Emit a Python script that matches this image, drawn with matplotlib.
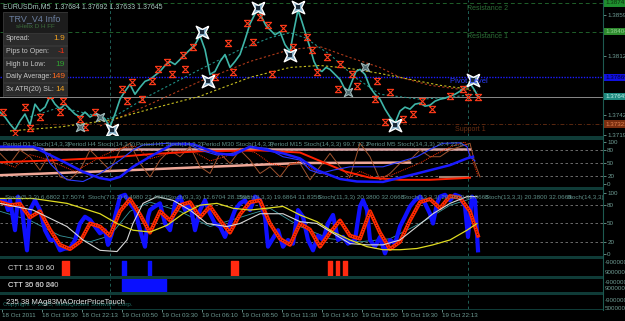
import numpy as np
import matplotlib
matplotlib.use('agg')
import matplotlib.pyplot as plt
from matplotlib.path import Path
from matplotlib.patches import Rectangle
from matplotlib.lines import Line2D
from matplotlib.transforms import blended_transform_factory

W, H = 625, 321
PLOT_W = 603
FONT = ['Liberation Sans Narrow', 'Liberation Sans', 'DejaVu Sans']

# ---- main chart data (bar position, price) ----
price = [(0,1.37463),(5,1.37405),(10,1.37323),(15,1.37254),(20,1.37358),(25,1.37440),(30,1.37312),
         (35,1.37556),(40,1.37475),(45,1.37521),(50,1.37649),(55,1.37556),(60,1.37498),(65,1.37556),
         (70,1.37498),(75,1.37440),(80,1.37405),(85,1.37463),(90,1.37405),(95,1.37440),(100,1.37405),
         (105,1.37382),(110,1.37289),(115,1.37440),(120,1.37614),(125,1.37707),(130,1.37788),(135,1.37672),
         (140,1.37753),(145,1.37823),(150,1.37846),(155,1.37893),(160,1.37939),(165,1.38009),(170,1.38056),
         (175,1.38021),(180,1.38079),(185,1.38137),(190,1.38195),(195,1.38253),(200,1.38358),(205,1.38195),
         (210,1.37904),(215,1.37939),(220,1.38056),(225,1.38137),(230,1.37986),(235,1.38056),(240,1.38137),
         (245,1.38311),(250,1.38497),(255,1.38613),(258,1.38671),(262,1.38567),(266,1.38474),(270,1.38427),
         (275,1.38369),(280,1.38404),(285,1.38253),(290,1.38172),(294,1.38427),(298,1.38660),(302,1.38520),
         (306,1.38369),(310,1.38218),(314,1.38056),(318,1.37963),(322,1.37939),(326,1.37986),(330,1.37963),
         (335,1.37904),(340,1.37846),(344,1.37753),(348,1.37707),(352,1.37823),(356,1.37939),(360,1.37963),
         (365,1.37904),(370,1.37753),(375,1.37672),(380,1.37614),(385,1.37498),(390,1.37405),(395,1.37335),
         (400,1.37475),(405,1.37521),(410,1.37498),(415,1.37556),(420,1.37568),(425,1.37533),(430,1.37544),
         (435,1.37591),(440,1.37614),(445,1.37626),(450,1.37649),(455,1.37672),(460,1.37707),(465,1.37753),
         (470,1.37800),(474,1.37730),(478,1.37649)]

ma_teal = [(30,1.37405),(60,1.37521),(85,1.37451),(110,1.37382),(150,1.37660),(200,1.37963),(240,1.38195),
           (270,1.38334),(290,1.38393),(305,1.38334),(330,1.38137),(355,1.37870),(380,1.37672),(420,1.37614),
           (450,1.37637),(475,1.37672)]
ma_red = [(100,1.37300),(150,1.37556),(200,1.37823),(250,1.38056),(290,1.38195),(320,1.38230),(350,1.38102),
          (380,1.37986),(400,1.37870),(430,1.37777),(460,1.37730),(478,1.37707)]
ma_yellow = [(10,1.37242),(60,1.37289),(110,1.37370),(150,1.37498),(200,1.37649),(250,1.37870),(290,1.37986),
             (320,1.38009),(350,1.37974),(380,1.37916),(410,1.37846),(440,1.37777),(470,1.37730)]

fractals = [(3,1.37463),(15,1.37219),(25,1.37521),(30,1.37277),(40,1.37405),(50,1.37660),(60,1.37463),
            (63,1.37591),(80,1.37382),(85,1.37289),(95,1.37463),(122,1.37730),(127,1.37591),(132,1.37812),
            (142,1.37614),(152,1.37823),(158,1.37963),(167,1.38044),(172,1.37904),(183,1.38137),(185,1.37963),
            (193,1.38230),(215,1.37870),(228,1.38276),(233,1.37928),(247,1.38509),(253,1.38288),(260,1.38578),
            (268,1.38485),(272,1.37904),(283,1.38451),(293,1.38230),(307,1.38346),(312,1.38195),(317,1.37928),
            (327,1.38114),(338,1.37730),(340,1.38021),(352,1.37904),(357,1.37765),(375,1.37614),(377,1.37823),
            (385,1.37347),(390,1.37695),(403,1.37382),(413,1.37440),(422,1.37591),(432,1.37498),(450,1.37649),
            (463,1.37730),(468,1.37637),(478,1.37637)]
zigzag_big = [(112,1.37254),(202,1.38404),(208,1.37823),(258,1.38683),(290,1.38137),(298,1.38695),
              (395,1.37312),(473,1.37835)]
zigzag_small = [(80,1.37289),(100,1.37405),(348,1.37695),(365,1.37997)]

levels = {'Resistance 2': 1.38741, 'Resistance 1': 1.38404, 'Pivot Level': 1.37869, 'Support 1': 1.37323}
bid = 1.37645
price_ticks = [1.37190, 1.37425, 1.38125, 1.38598]

info_labels = ['Spread:', 'Pips to Open:', 'High to Low:', 'Daily Average:', '3x ATR(20) SL:']
info_values = ['1.9', '-1', '19', '149', '14']
info_colors = ['#f0a020', '#ff3010', '#2fa02f', '#ff6a20', '#f0a020']

# ---- multi timeframe stochastic (panel 1) ----
s1_pink_top = [(0,83),(470,83)]
s1_pink_low = [(0,21),(100,30),(200,40),(300,50),(410,51)]
s1_tan = [(440,17),(468,17)]
s1_red = [(0,52),(50,56),(110,63),(150,71),(200,78),(260,80),(300,75),(320,55),(345,30),(370,15),
          (400,10),(430,10),(455,13),(470,15)]
s1_blue = [(0,89),(33,89),(50,69),(67,49),(83,29),(100,14),(110,10),(120,17),(133,41),(150,65),(173,95),
           (193,95),(217,73),(233,69),(250,89),(283,73),(300,61),(317,33),(340,12),(357,6),(383,5),
           (417,25),(450,45),(467,61),(473,65)]
s1_blue_thin = [(0,89),(33,89),(43,85),(50,49),(60,25),(67,10),(83,6),(100,25),(120,57),(133,81),(143,93),
                (167,97),(187,97),(200,81),(217,69),(233,73),(250,89),(267,85),(283,65),(300,57),(310,33),
                (320,25),(333,33),(350,41),(383,41),(400,53),(417,65),(433,86),(443,97),(460,98),(467,89),
                (470,65),(475,55)]
s1_brown = [(0,73),(10,49),(20,81),(30,65),(40,33),(50,73),(60,17),(70,10),(80,33),(90,81),(100,57),
            (110,33),(120,81),(130,97),(140,49),(150,17),(160,57),(170,81),(180,65),(190,89),(200,41),
            (210,25),(220,73),(230,49),(240,81),(250,57),(260,25),(270,41),(280,17),(290,49),(300,49),
            (310,10),(320,41),(330,73),(340,41),(350,17),(360,97),(370,65),(380,10),(390,25),(400,49),
            (410,57),(420,81),(430,65),(440,65),(450,81),(460,89),(470,97),(475,49),(480,17)]
s1_red_thin = [(0,52),(15,40),(30,70),(45,60),(60,45),(75,30),(90,50),(105,70),(120,85),(135,90),(150,60),
               (165,70),(180,80),(195,75),(210,55),(225,65),(240,85),(255,75),(270,50),(285,40),(300,55),
               (315,30),(330,20),(345,10),(360,30),(375,15),(390,20),(405,35),(420,50),(435,70),(450,88),
               (465,100),(472,60),(478,20)]
s1_headers = ['Period D1 Stoch(14,3,3)', 'Period H4 Stoch(14,3,3)', 'Period H1 Stoch(14,3,3)',
              'Period M30 Stoch(14,3,3)', 'Period M15 Stoch(14,3,3) 99.7 72.2',
              'Period M5 Stoch(14,3,3) 20.4 22.6']

# ---- stochastic ribbon (panel 2) ----
s2_fast = [(0,88),(5,88),(8,72),(10,88),(15,39),(18,94),(22,72),(27,6),(30,72),(35,88),(40,72),(45,39),
           (50,23),(55,23),(60,6),(65,9),(70,9),(75,23),(80,50),(85,61),(90,56),(95,45),(100,34),(105,39),
           (108,15),(112,34),(115,61),(120,94),(125,97),(130,83),(135,72),(140,39),(145,12),(148,61),
           (150,72),(155,78),(160,83),(165,50),(170,39),(175,83),(180,94),(185,72),(190,83),(195,39),
           (200,72),(205,88),(210,66),(215,50),(220,45),(225,28),(230,50),(235,72),(240,83),(245,88),
           (250,72),(255,94),(260,88),(265,61),(268,12),(272,23),(278,39),(283,12),(288,23),(293,17),
           (298,72),(303,61),(308,23),(313,6),(318,30),(323,23),(328,50),(333,64),(338,23),(343,28),
           (348,17),(355,23),(360,78),(363,88),(367,72),(370,23),(375,12),(380,28),(385,1),(390,23),
           (395,17),(400,45),(405,61),(410,78),(415,88),(420,94),(425,83),(430,66),(433,50),(437,83),
           (440,94),(445,97),(450,88),(455,97),(460,94),(465,78),(468,28),(472,94),(475,88),(478,6)]
s2_signal = [(0,85),(10,80),(20,82),(30,60),(40,70),(50,40),(60,15),(70,8),(80,20),(90,50),(100,45),
             (110,30),(120,70),(130,90),(140,65),(150,35),(160,70),(170,55),(180,80),(190,85),(200,60),
             (210,78),(220,55),(230,35),(240,65),(250,85),(260,88),(270,50),(280,25),(290,15),(300,50),
             (310,40),(320,12),(330,35),(340,55),(350,30),(360,25),(370,70),(380,35),(390,8),(400,20),
             (410,55),(420,85),(430,90),(440,75),(450,95),(460,92),(470,70),(478,30)]
s2_yellow = [(0,91),(33,91),(67,83),(100,66),(117,50),(133,39),(150,36),(167,47),(183,66),(200,80),
             (217,83),(233,75),(250,72),(283,78),(300,64),(317,53),(333,36),(350,23),(367,12),(383,7),
             (400,7),(417,9),(433,15),(450,23),(467,39),(477,50)]
s2_white = [(0,83),(33,72),(67,45),(83,23),(100,6),(117,4),(127,23),(133,50),(143,83),(157,94),(173,88),
            (190,72),(207,50),(227,45),(240,50),(260,66),(283,66),(300,53),(317,50),(333,34),(350,17),
            (367,15),(383,15),(400,23),(417,45),(433,66),(450,83),(467,94),(477,94)]
s2_teal = [(0,70),(30,55),(60,30),(90,20),(110,30),(130,70),(150,85),(180,70),(210,45),(240,60),
           (270,75),(300,45),(330,25),(360,20),(390,25),(420,50),(450,80),(470,90),(478,85)]
s2_headers = ['Stoch(5,3,3) 6.6802 17.5074', 'Stoch(7,3,3) 6.4980 22.4980', 'Stoch(9,3,3) 12.6704 28.1598',
              'Stoch(9,3,3) 19.6864 31.8356', 'Stoch(11,3,3) 20.3800 32.0668',
              'Stoch(13,3,3) 20.3800 32.0668', 'Stoch(13,3,3) 20.3800 32.0668', 'Stoch(14,3,3)']

# ---- CTT signal bars (start, end) ----
ctt1_red = [(62,69),(231,238),(328,332),(336,339),(343,347)]
ctt1_blue = [(122,126),(148,151)]
ctt2_blue = [(122,166)]

time_labels = ['18 Oct 2011', '18 Oct 19:30', '18 Oct 22:13', '19 Oct 00:50', '19 Oct 03:30',
               '19 Oct 06:10', '19 Oct 08:50', '19 Oct 11:30', '19 Oct 14:10', '19 Oct 16:50',
               '19 Oct 19:30', '19 Oct 22:13']

AX_C = '#6f9c94'
SEP_C = '#0f3b37'
VL_C = '#1f5f56'

fig = plt.figure(figsize=(W / 100, H / 100), dpi=100, facecolor='black')


def panel(y0, y1):
	a = fig.add_axes([0, 1 - y1 / H, PLOT_W / W, (y1 - y0) / H])
	a.set_facecolor('black')
	a.set_xlim(0, PLOT_W)
	a.set_xticks([])
	for s in a.spines.values():
		s.set_visible(False)
	a.yaxis.tick_right()
	a.tick_params(axis='y', colors=AX_C, labelsize=4.5, length=2, pad=1, width=0.6)
	for lab in a.get_yticklabels():
		lab.set_family(FONT)
	for vx in (110, 468):
		a.axvline(vx, color=VL_C, lw=0.7, ls=(0, (3, 3)))
	return a


def xy(pts):
	return [p[0] for p in pts], [p[1] for p in pts]


# separators and right border
for y0, y1 in [(136, 140), (187, 190), (256, 259), (276, 279), (292, 295), (309, 310)]:
	fig.add_artist(Rectangle((0, 1 - y1 / H), PLOT_W / W, (y1 - y0) / H, transform=fig.transFigure,
	                         color=SEP_C, lw=0))
fig.add_artist(Line2D([PLOT_W / W] * 2, [1 - 310 / H, 1], transform=fig.transFigure, color='#1d5a50', lw=0.8))

# ---------------- main price chart ----------------
ax = panel(0, 136)
ax.set_ylim(1.37183, 1.38776)
ax.set_yticks(price_ticks)
ax.set_yticklabels(['%.5f' % p for p in price_ticks], family=FONT)

lv = levels
ax.axhline(lv['Resistance 2'], color='#1f5f2a', lw=0.7, ls=(0, (4, 3)))
ax.axhline(lv['Resistance 1'], color='#1f5f2a', lw=0.7, ls=(0, (4, 3)))
ax.axhline(lv['Pivot Level'], color='#1c1cff', lw=1.0, ls=(0, (1, 1)))
ax.axhline(bid, color='#8a8a8a', lw=0.7)
ax.axhline(lv['Support 1'], color='#5a2810', lw=0.7, ls=(0, (4, 2, 1, 2)))
ax.text(467, lv['Resistance 2'] - 0.0002, 'Resistance 2', color='#2c6b36', fontsize=5, va='top', family=FONT)
ax.text(467, lv['Resistance 1'] - 0.0001, 'Resistance 1', color='#2c6b36', fontsize=5, va='top', family=FONT)
ax.text(450, lv['Pivot Level'] - 0.0001, 'Pivot Level', color='#2a3cff', fontsize=5.5, va='top', family=FONT)
ax.text(455, lv['Support 1'] - 0.0002, 'Support 1', color='#6b2e12', fontsize=5, va='top', family=FONT)

x, y = xy(ma_teal)
ax.plot(x, y, color='#1f8f86', lw=0.8, ls=(0, (2, 2)))
x, y = xy(ma_red)
ax.plot(x, y, color='#b03a1a', lw=0.8, ls=(0, (2, 2)))
x, y = xy(ma_yellow)
ax.plot(x, y, color='#c8c020', lw=0.8, ls=(0, (2, 2)))

x, y = xy(price)
ax.plot(x, y, color='#3fb5a8', lw=1.2)

hourglass = Path([(-1, 1), (1, 1), (-1, -1), (1, -1), (-1, 1)])
x, y = xy(fractals)
ax.plot(x, y, ls='none', marker=hourglass, ms=4.5, mew=0.8, mfc='none', mec='#ff3b1a')

star = Path([(1, 1), (0, 0.5), (-1, 1), (-0.5, 0), (-1, -1), (0, -0.5), (1, -1), (0.5, 0), (1, 1)])
x, y = xy(zigzag_big)
ax.plot(x, y, ls='none', marker=star, ms=9, mew=1.0, mfc='#7fa8c0', mec='white')
ax.plot(x, y, ls='none', marker='s', ms=2.5, mew=0, mfc='#1a2a3a')
x, y = xy(zigzag_small)
ax.plot(x, y, ls='none', marker=star, ms=6, mew=0.8, mfc='#506a70', mec='#a0b8b8')

ax.text(3, 0.955, 'EURUSDm,M5  1.37684 1.37692 1.37633 1.37645',
        transform=blended_transform_factory(ax.transData, ax.transAxes),
        color='#a8c8c0', fontsize=5, va='center', family=FONT)

# price boxes on the axis
bt = blended_transform_factory(ax.transAxes, ax.transData)
for p, fc, tc in [(lv['Resistance 2'], '#1f8f2f', '#0a300a'), (lv['Resistance 1'], '#2e8b2e', '#90d090'),
                  (lv['Pivot Level'], '#1010e0', '#000030'), (bid, '#1f8a80', '#c0f0e8'),
                  (lv['Support 1'], '#7a2e10', '#e08050')]:
	ax.text(1.004, p, '%.5f' % p, transform=bt, color=tc, fontsize=4.5, va='center', ha='left', family=FONT,
	        clip_on=False, bbox=dict(fc=fc, ec='none', pad=0.8))

# info box
ib = fig.add_axes([3 / W, 1 - 97 / H, 65 / W, 85 / H])
ib.set_xlim(0, 65)
ib.set_ylim(85, 0)
ib.axis('off')
ib.add_patch(Rectangle((0, 0), 65, 85, fc='#1c1c1c', ec='#3a3a3a', lw=0.6))
ib.text(32, 6.5, 'TRV_V4 Info', color='#6b7fa0', fontsize=6.5, ha='center', va='center', family=FONT)
ib.text(32, 14, 'sHelix D H FF', color='#3c6e3c', fontsize=4.5, ha='center', va='center', family=FONT)
for i, (lab, val, col) in enumerate(zip(info_labels, info_values, info_colors)):
	top = 21 + i * 12.6
	ib.add_patch(Rectangle((0.5, top), 64, 11.6, fc='#2b2b2b', ec='#3c3c3c', lw=0.5))
	ib.text(3, top + 6, lab, color='#c8c8c8', fontsize=5, va='center', family=FONT)
	ib.text(62, top + 6, val, color=col, fontsize=6, va='center', ha='right', family=FONT)

# ---------------- stochastic panel 1 ----------------
a1 = panel(140, 187)
a1.set_ylim(-7.1, 104.8)
a1.set_yticks([0, 20, 50, 80, 100])
for lv_ in (20, 50, 80):
	a1.axhline(lv_, color='#7a7a7a', lw=0.6, ls=(0, (3, 3)))
x, y = xy(s1_pink_top)
a1.plot(x, y, color='#d8a0a0', lw=1.8)
x, y = xy(s1_pink_low)
a1.plot(x, y, color='#f0a898', lw=1.8)
x, y = xy(s1_tan)
a1.plot(x, y, color='#a08070', lw=1.5)
x, y = xy(s1_brown)
a1.plot(x, y, color='#a0522d', lw=0.7)
x, y = xy(s1_red_thin)
a1.plot(x, y, color='#ff3000', lw=0.7, ls=(0, (1, 1)))
x, y = xy(s1_red)
a1.plot(x, y, color='#ff2000', lw=1.4)
x, y = xy(s1_blue_thin)
a1.plot(x, y, color='#2a3aff', lw=0.8)
x, y = xy(s1_blue)
a1.plot(x, y, color='#1a1aff', lw=1.8)
for hx, txt in zip([3, 68, 136, 202, 270, 367], s1_headers):
	a1.text(hx, 95, txt, color='#5f8f88', fontsize=4.5, va='center', family=FONT)

# ---------------- stochastic panel 2 ----------------
a2 = panel(190, 256)
a2.set_ylim(-3.3, 104.9)
a2.set_yticks([0, 20, 50, 80, 100])
for lv_ in (20, 50, 80):
	a2.axhline(lv_, color='#7a7a7a', lw=0.6, ls=(0, (3, 3)))
x, y = xy(s2_teal)
a2.plot(x, y, color='#3a9aa0', lw=0.6)
x, y = xy(s2_fast)
a2.plot(x, y, color='#1010ff', lw=3.0)
x, y = xy(s2_signal)
a2.plot(x, y, color='#ff2a00', lw=2.8)
a2.plot(x, y, color='black', lw=0.6, ls=(0, (1, 2)))
x, y = xy(s2_white)
a2.plot(x, y, color='#d8d8d8', lw=0.8)
x, y = xy(s2_yellow)
a2.plot(x, y, color='#e0dc20', lw=0.9)
for hx, txt in zip([5, 88, 167, 238, 318, 402, 485, 567], s2_headers):
	a2.text(hx, 93, txt, color='#5f8f88', fontsize=4.5, va='center', family=FONT)

# ---------------- CTT panels ----------------
c1 = panel(259, 276)
c1.set_ylim(0, 1)
c1.set_yticks([])
c1.broken_barh([(s, e - s) for s, e in ctt1_red], (0, 0.88), color='#ff2a10')
c1.broken_barh([(s, e - s) for s, e in ctt1_blue], (0, 0.88), color='#0a10ff')
c1.text(8, 0.45, 'CTT 15 30 60', color='#d8d8d8', fontsize=5.5, va='center', family=FONT)

c2 = panel(279, 292)
c2.set_ylim(0, 1)
c2.set_yticks([])
c2.broken_barh([(s, e - s) for s, e in ctt2_blue], (0, 1), color='#0a10ff')
c2.text(8, 0.5, 'CTT 30 60 240', color='#d8d8d8', fontsize=5.5, va='center', family=FONT)
c2.text(8, 0.5, 'CTT 15 30 60', color='#d8d8d8', fontsize=5.5, va='center', family=FONT, alpha=0.6)

c3 = panel(295, 309)
c3.set_ylim(0, 1)
c3.set_yticks([])
c3.text(3, 0.35, 'Copyright \u00a9 2005, MetaQuotes Software Corp.', color='#1f6f66', fontsize=4.5,
        va='center', family=FONT)
c3.text(6, 0.5, '235 38 MAg83MAOrderPriceTouch', color='#e0e0e0', fontsize=5.5, va='center', family=FONT)

for yy, txt in [(262, '-900000'), (272, '9000000'), (282, '-900000'), (289, '9000000'),
                (301, '-900000'), (309, '5000000')]:
	fig.text(605 / W, 1 - yy / H, txt, color=AX_C, fontsize=4.5, va='center', family=FONT)

# time axis
c3.set_xticks(np.arange(len(time_labels)) * 40 + 2)
c3.set_xticklabels(time_labels, ha='left', family=FONT)
c3.tick_params(axis='x', colors=AX_C, labelsize=4.5, length=2, pad=1, width=0.6)

fig.savefig('out.png', dpi=100, facecolor='black')
